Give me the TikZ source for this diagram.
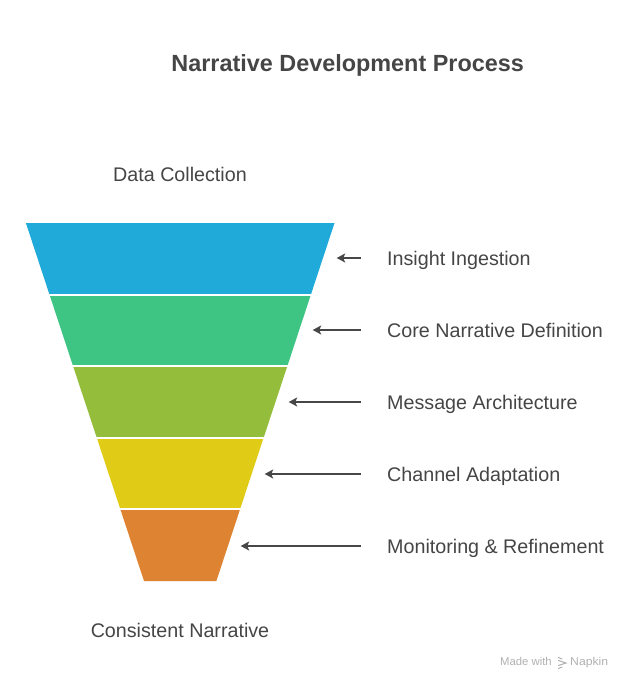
\documentclass[tikz,border=0pt]{standalone}
\usepackage{fontspec}
\setmainfont{Liberation Sans}
\usetikzlibrary{arrows.meta}
\definecolor{cblue}{HTML}{1FAAD9}
\definecolor{cgreen}{HTML}{3EC583}
\definecolor{colive}{HTML}{94BD3B}
\definecolor{cyellow}{HTML}{E0CB17}
\definecolor{corange}{HTML}{DE8331}
\definecolor{ctext}{HTML}{454545}
\definecolor{carrow}{HTML}{474747}
\definecolor{cmark}{HTML}{B0B0B0}
\tikzset{
  gapline/.style={draw=white,line width=2pt},
  lbl/.style={anchor=base west,inner sep=0pt,text=ctext,font=\fontsize{19.7}{22}\selectfont},
  clbl/.style={anchor=base,inner sep=0pt,text=ctext,font=\fontsize{19.7}{22}\selectfont},
  ttl/.style={anchor=base,inner sep=0pt,text=ctext,font=\bfseries\fontsize{23.4}{26}\selectfont},
  pointer/.style={draw=carrow,line width=1.9pt,-{Stealth[length=8.5pt,width=9pt,inset=2pt]}},
  wmtext/.style={anchor=base west,inner sep=0pt,text=cmark,font=\fontsize{11.3}{13}\selectfont},
}
\begin{document}
\begin{tikzpicture}[x=1pt,y=-1pt]
\useasboundingbox (0,0) rectangle (633,690);
% funnel bands
\fill[cblue]   (25.9,223) -- (334.5,223) -- (310.9,294.6) -- (49.5,294.6) -- cycle;
\fill[cgreen]  (49.5,294.6) -- (310.9,294.6) -- (287.3,366.2) -- (73.1,366.2) -- cycle;
\fill[colive]  (73.1,366.2) -- (287.3,366.2) -- (263.6,437.8) -- (96.8,437.8) -- cycle;
\fill[cyellow] (96.8,437.8) -- (263.6,437.8) -- (240.0,509.4) -- (120.4,509.4) -- cycle;
\fill[corange] (120.4,509.4) -- (240.0,509.4) -- (216.4,581) -- (144.0,581) -- cycle;
\foreach \y in {294.6,366.2,437.8,509.4} \draw[gapline] (20,\y) -- (340,\y);
% title and end labels
\node[ttl] (title) at (347.7,71.7) {Narrative Development Process};
\node[clbl] (start) at (180,181.7) {Data Collection};
\node[clbl] (finish) at (180,637) {Consistent Narrative};
% stage labels
\node[lbl] (l1) at (387,265.5) {Insight Ingestion};
\node[lbl] (l2) at (387,337.5) {Core Narrative Definition};
\node[lbl] (l3) at (387,409.5) {Message Architecture};
\node[lbl] (l4) at (387,481.5) {Channel Adaptation};
\node[lbl] (l5) at (387,553.5) {Monitoring \& Refinement};
% arrows
\coordinate (s1) at (360.7,258); \coordinate (t1) at (336.7,258);
\coordinate (s2) at (360.7,330); \coordinate (t2) at (312.7,330);
\coordinate (s3) at (360.7,402); \coordinate (t3) at (288.7,402);
\coordinate (s4) at (360.7,474); \coordinate (t4) at (264.7,474);
\coordinate (s5) at (360.7,546); \coordinate (t5) at (240.7,546);
\foreach \i in {1,...,5} \draw[pointer] (s\i) -- (t\i);
% watermark
\node[wmtext] (mw) at (500,665) {Made with};
\draw[cmark,line width=1pt,line cap=round]
  (558.5,657.5) -- (562,659)
  (558.5,660.5) -- (566,663) -- (558.5,665.5)
  (558.5,668.5) -- (562,667);
\node[wmtext] (np) at (570,665) {\scalebox{1.08}[1]{Napkin}};
\end{tikzpicture}
\end{document}
